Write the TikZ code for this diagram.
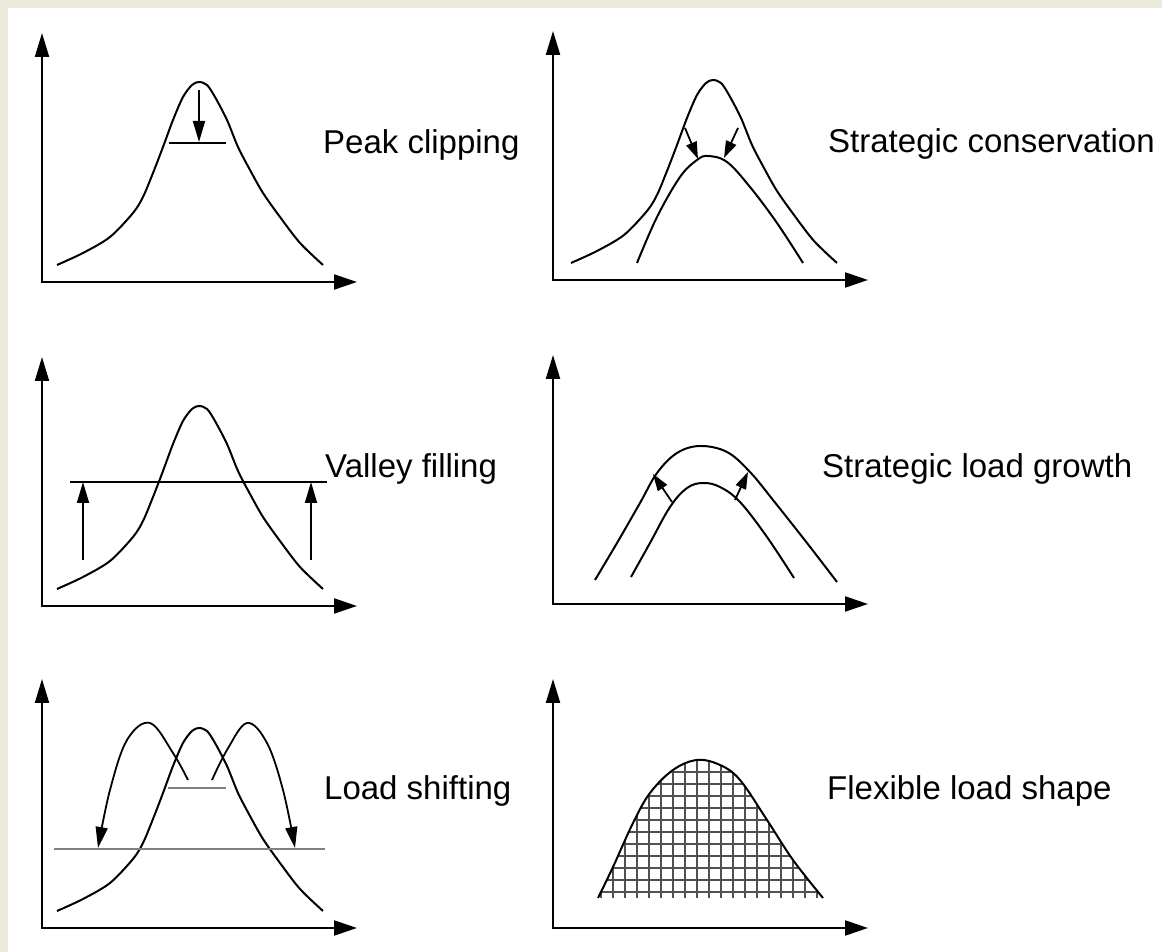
\documentclass[tikz,border=0pt]{standalone}
\usepackage{fontspec}
\setmainfont{Liberation Sans}
\usepackage{tikz}
\usetikzlibrary{arrows.meta}
\definecolor{FrameBeige}{RGB}{236,234,220}
\definecolor{LineGray}{RGB}{128,128,128}
\definecolor{GridGray}{RGB}{80,80,80}
\tikzset{
  axes/.style={line width=2.2pt,
    {Triangle[length=24pt,width=14pt]}-{Triangle[length=23pt,width=15pt]}},
  curve/.style={line width=2pt, line join=round},
  arr/.style={line width=1.8pt, -{Triangle[length=21pt,width=12pt]}},
  sarr/.style={line width=1.8pt, -{Triangle[length=17pt,width=11pt]}},
  level/.style={line width=1.6pt},
  grayline/.style={line width=2.2pt, color=LineGray},
  gridline/.style={line width=1.1pt, color=GridGray},
  lbl/.style={font=\fontsize{33}{40}\selectfont, anchor=base west, inner sep=0pt},
}
% axes of one panel, origin at (0,0)
\newcommand{\drawaxes}{\draw[axes] (0,249) -- (0,0) -- (315,0);}
% the base load curve
\newcommand{\bellcurve}[1]{%
  \draw[curve,#1] plot[smooth,tension=0.5] coordinates {(15,17) (41,29) (68,45)
    (91,69) (101,85) (111,109) (121,135) (131,162) (141,185) (150,197) (157,200)
    (165,197) (173,185) (185,162) (196,135) (208,112) (221,89) (238,65) (258,39)
    (281,17)};}

\begin{document}
\begin{tikzpicture}[x=1pt, y=1pt]
  \useasboundingbox (0,0) rectangle (1162,952);
  \fill[FrameBeige] (0,0) rectangle (1162,952);
  \fill[white] (8,0) rectangle (1162,944);

  % Peak clipping
  \begin{scope}[shift={(42,670)}]
    \drawaxes
    \bellcurve{}
    \draw[arr] (157,192) -- (157,140);
    \draw[level] (127,139) -- (184,139);
  \end{scope}
  \node[lbl] (peak) at (323,798) {Peak clipping};

  % Strategic conservation
  \begin{scope}[shift={(553,672)}]
    \drawaxes
    \bellcurve{xshift=3pt}
    \draw[curve] plot[smooth,tension=0.6] coordinates {(84,17) (104,63) (127,103)
      (144,120) (155,124) (174,118) (197,93) (224,57) (250,17)};
    \draw[sarr] (132,152) -- (145,121);
    \draw[sarr] (185,152) -- (171,122);
  \end{scope}
  \node[lbl] (cons) at (828,799) {Strategic conservation};

  % Valley filling
  \begin{scope}[shift={(42,346)}]
    \drawaxes
    \bellcurve{}
    \draw[level] (28,124) -- (285,124);
    \draw[arr] (41,46) -- (41,124);
    \draw[arr] (269,46) -- (269,124);
  \end{scope}
  \node[lbl] (valley) at (325,474) {Valley filling};

  % Strategic load growth
  \begin{scope}[shift={(553,348)}]
    \drawaxes
    \draw[curve] plot[smooth,tension=0.6] coordinates {(42,24) (64,61) (87,101)
      (104,131) (124,151) (147,158) (174,152) (197,132) (220,104) (254,61) (284,22)};
    \draw[curve] plot[smooth,tension=0.6] coordinates {(78,27) (97,61) (117,97)
      (134,116) (150,121) (167,117) (187,102) (214,67) (241,26)};
    \draw[sarr] (119,102) -- (100,130);
    \draw[sarr] (182,104) -- (195,132);
  \end{scope}
  \node[lbl] (growth) at (822,474) {Strategic load growth};

  % Load shifting
  \begin{scope}[shift={(42,24)}]
    \drawaxes
    \bellcurve{}
    \draw[grayline] (12,79) -- (283,79);
    \draw[grayline] (126,140) -- (184,140);
    \draw[arr] plot[smooth,tension=0.6] coordinates {(146,148) (131,175) (108,205)
      (85,188) (68,138) (56,80)};
    \draw[arr] plot[smooth,tension=0.6] coordinates {(170,148) (185,178) (205,205)
      (225,185) (241,138) (253,80)};
  \end{scope}
  \node[lbl] (shifting) at (324,152) {Load shifting};

  % Flexible load shape
  \begin{scope}[shift={(553,24)}]
    \drawaxes
    \begin{scope}
      \clip plot[smooth,tension=0.6] coordinates {(45,30) (60,61) (80,105) (97,135)
        (120,158) (144,168) (167,163) (187,148) (214,108) (240,68) (270,30)} -- cycle;
      \draw[gridline, step=12pt] (0,0) grid (300,200);
    \end{scope}
    \draw[curve] plot[smooth,tension=0.6] coordinates {(45,30) (60,61) (80,105)
      (97,135) (120,158) (144,168) (167,163) (187,148) (214,108) (240,68) (270,30)};
  \end{scope}
  \node[lbl] (flexible) at (827,152) {Flexible load shape};
\end{tikzpicture}
\end{document}
